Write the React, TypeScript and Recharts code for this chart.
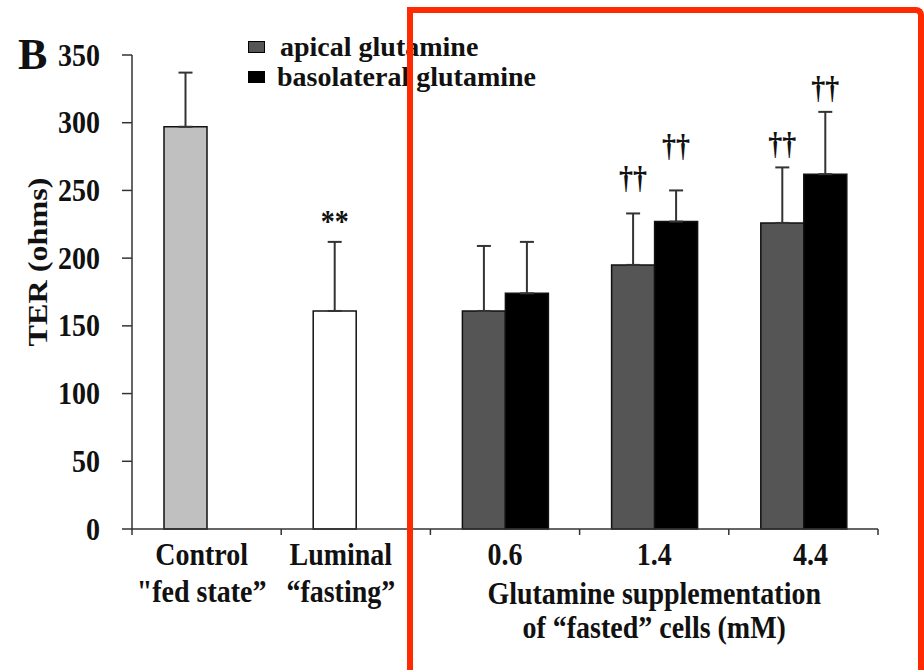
import React from 'react';
import { BarChart, Bar, XAxis, YAxis, ErrorBar, Cell, LabelList, Legend } from 'recharts';

// ---------- data ----------
const categories = ['Control', 'Luminal', '0.6', '1.4', '4.4'];
const categoryLines: string[][] = [
  ['Control', '"fed state\u201d'],
  ['Luminal', '\u201cfasting\u201d'],
  ['0.6'],
  ['1.4'],
  ['4.4'],
];
const groupTitleLines = ['Glutamine supplementation', 'of \u201cfasted\u201d cells (mM)'];
const seriesNames = ['apical glutamine', 'basolateral glutamine'];

const apicalValues: (number | null)[] = [297, 161, 161, 195, 226];
const apicalErrors: (number | null)[] = [40, 51, 48, 38, 41];
const basolateralValues: (number | null)[] = [null, null, 174, 227, 262];
const basolateralErrors: (number | null)[] = [null, null, 38, 23, 46];

const apicalMarks = ['', '**', '', '\u2020\u2020', '\u2020\u2020'];
const apicalMarkLevels: (number | null)[] = [null, 230, null, 258, 283];
const basolateralMarks = ['', '', '', '\u2020\u2020', '\u2020\u2020'];
const basolateralMarkLevels: (number | null)[] = [null, null, null, 281, 324];

const yTicks = [0, 50, 100, 150, 200, 250, 300, 350];
const apicalCellColors = ['#c0c0c0', '#ffffff', '#555555', '#555555', '#555555'];

const data = categories.map((c, i) => ({
  category: c,
  apical: apicalValues[i],
  apicalErr: apicalErrors[i] == null ? null : [0, apicalErrors[i]],
  basolateral: basolateralValues[i],
  basolateralErr: basolateralErrors[i] == null ? null : [0, basolateralErrors[i]],
}));

// ---------- layout / style ----------
const W = 924;
const H = 670;
const MARGIN = { top: 55, right: 46, left: 0, bottom: 0 };
const Y_AXIS_W = 132;
const X_AXIS_H = 141;
const PLOT_W = W - MARGIN.right - Y_AXIS_W;
const FONT = "'Liberation Serif', 'Times New Roman', serif";
const INK = '#111';
const AXIS = '#333';
const SY = 1.15; // vertical stretch of the original figure's lettering
const TICK_LABEL_DX = [-5, -15, 0, 0, 7];

const SText = (p: { x: number; y: number; size?: number; anchor?: string; children: any }) => (
  <text
    transform={`translate(${p.x} ${p.y}) scale(1 ${SY})`}
    x={0}
    y={0}
    textAnchor={p.anchor || 'middle'}
    style={{ fontFamily: FONT }}
    fontWeight="bold"
    fontSize={p.size || 28}
    fill={INK}
  >
    {p.children}
  </text>
);

const XTick = (props: any) => {
  const { x, y, index } = props;
  const bw = PLOT_W / categories.length;
  const lines = categoryLines[index] || [];
  const dx = TICK_LABEL_DX[index] || 0;
  return (
    <g>
      <line x1={x - bw / 2} x2={x - bw / 2} y1={y} y2={y + 6} stroke={AXIS} strokeWidth={1.5} />
      {index === categories.length - 1 && (
        <line x1={x + bw / 2} x2={x + bw / 2} y1={y} y2={y + 6} stroke={AXIS} strokeWidth={1.5} />
      )}
      {lines.map((t, i) => (
        <SText key={i} x={x + dx} y={y + 36 + i * 37}>
          {t}
        </SText>
      ))}
    </g>
  );
};

const YTick = (props: any) => {
  const { x, y, payload } = props;
  return (
    <SText x={x} y={y + 10.5} anchor="end">
      {payload.value}
    </SText>
  );
};

const GroupTitle = (props: any) => {
  const vb = props.viewBox || {};
  const cx = vb.x + vb.width * 0.7;
  return (
    <g>
      {groupTitleLines.map((t, i) => (
        <SText key={i} x={cx} y={vb.y + 75 + i * 34}>
          {t}
        </SText>
      ))}
    </g>
  );
};

const YTitle = (props: any) => {
  const vb = props.viewBox || {};
  const cy = vb.y + vb.height / 2 - 30;
  return (
    <text
      transform={`translate(38 ${cy}) scale(1 ${SY}) rotate(-90)`}
      textAnchor="middle"
      dominantBaseline="central"
      style={{ fontFamily: FONT }}
      fontWeight="bold"
      fontSize={28}
      fill={INK}
    >
      TER (ohms)
    </text>
  );
};

const markRenderer = (marks: string[], levels: (number | null)[], key: 'apical' | 'basolateral') => (props: any) => {
  const i = categories.indexOf(props.value);
  if (i < 0) return null;
  const vb = props.viewBox || props;
  const { x, y, width, height } = vb;
  const mark = marks[i];
  const level = levels[i];
  const barValue = data[i][key];
  if (!mark || level == null || !barValue) return null;
  const pxPerUnit = height / barValue;
  const cy = y + height - level * pxPerUnit;
  const dy = mark.includes('*') ? 14 : 8;
  return (
    <SText x={x + width / 2} y={cy + dy}>
      {mark}
    </SText>
  );
};

const LegendContent = (props: any) => {
  const payload = props.payload || [];
  return (
    <div style={{ fontFamily: FONT, fontWeight: 'bold', fontSize: 28, color: INK, lineHeight: '28px' }}>
      {payload.map((p: any, i: number) => (
        <div key={i} style={{ display: 'flex', alignItems: 'center', height: 30 }}>
          <span
            style={{
              display: 'inline-block',
              width: 15,
              height: 10,
              background: p.color,
              border: '1px solid #000',
              marginRight: i === 0 ? 15 : 12,
            }}
          />
          <span style={{ whiteSpace: 'nowrap' }}>{p.value}</span>
        </div>
      ))}
    </div>
  );
};

export default function App() {
  return (
    <div style={{ position: 'absolute', left: 0, top: 0, width: W, height: H, background: '#fff', overflow: 'hidden' }}>
      <div
        style={{
          position: 'absolute',
          left: 18,
          top: 30,
          fontFamily: FONT,
          fontWeight: 'bold',
          fontSize: 44,
          color: INK,
          lineHeight: '50px',
        }}
      >
        B
      </div>
      <BarChart width={W} height={H} data={data} margin={MARGIN} barSize={43} barGap={0}>
        <XAxis
          dataKey="category"
          height={X_AXIS_H}
          axisLine={{ stroke: AXIS, strokeWidth: 1.5 }}
          tickLine={false}
          tickSize={0}
          tickMargin={0}
          tick={<XTick />}
          interval={0}
          label={<GroupTitle />}
        />
        <YAxis
          width={Y_AXIS_W}
          domain={[0, 350]}
          ticks={yTicks}
          interval={0}
          axisLine={{ stroke: AXIS, strokeWidth: 1.5 }}
          tickLine={{ stroke: AXIS, strokeWidth: 1.5 }}
          tickSize={10}
          tickMargin={22}
          tick={<YTick />}
          label={<YTitle />}
        />
        <Legend
          layout="vertical"
          align="center"
          verticalAlign="middle"
          wrapperStyle={{ left: 248, top: 32, width: 320 }}
          content={<LegendContent />}
        />
        <Bar
          dataKey="apical"
          name={seriesNames[0]}
          fill="#555555"
          stroke="#111"
          strokeWidth={1.5}
          isAnimationActive={false}
        >
          {data.map((d, i) => (
            <Cell key={i} fill={apicalCellColors[i]} />
          ))}
          <ErrorBar dataKey="apicalErr" width={7} stroke={AXIS} strokeWidth={2} direction="y" />
          <LabelList dataKey="category" content={markRenderer(apicalMarks, apicalMarkLevels, 'apical')} />
        </Bar>
        <Bar
          dataKey="basolateral"
          name={seriesNames[1]}
          fill="#000000"
          stroke="#111"
          strokeWidth={1.5}
          isAnimationActive={false}
        >
          <ErrorBar dataKey="basolateralErr" width={7} stroke={AXIS} strokeWidth={2} direction="y" />
          <LabelList dataKey="category" content={markRenderer(basolateralMarks, basolateralMarkLevels, 'basolateral')} />
        </Bar>
      </BarChart>
      <div
        style={{
          position: 'absolute',
          left: 407,
          top: 7,
          width: 505,
          height: 720,
          border: '6px solid #ff2a00',
          borderBottom: 'none',
          borderTopRightRadius: 8,
          pointerEvents: 'none',
        }}
      />
    </div>
  );
}
